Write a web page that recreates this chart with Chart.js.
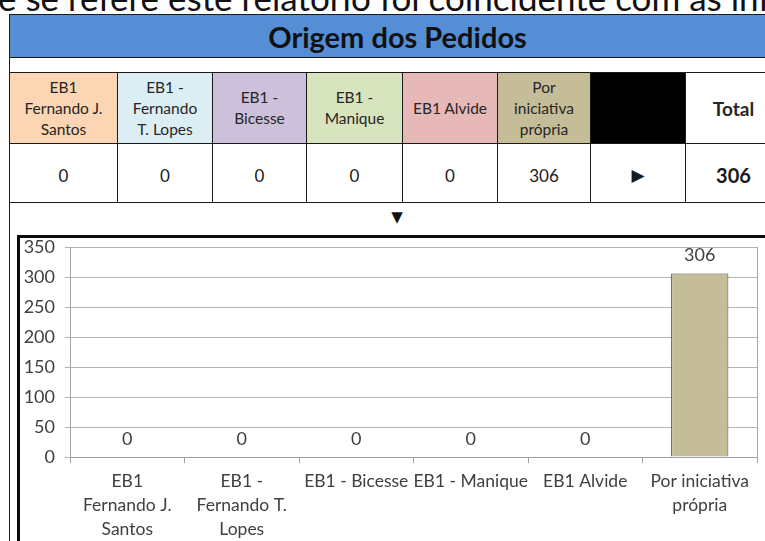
<!DOCTYPE html>
<html>
<head>
<meta charset="utf-8">
<script src="https://cdn.jsdelivr.net/npm/chart.js@4/dist/chart.umd.min.js"></script>
<style>
  html, body { margin:0; padding:0; width:765px; height:541px; overflow:hidden; background:#fff; }
  body { position:relative; font-family: Lato, "Open Sans", sans-serif; color:#1a1a1a; }
  .abs { position:absolute; box-sizing:border-box; }
  .cell { display:flex; align-items:center; justify-content:center; text-align:center; border:1px solid #1a1a1a; }
  .hdr { font-size:15.5px; line-height:21px; color:#262626; }
  .val { font-size:17px; color:#1a1a1a; }
</style>
</head>
<body>
<div class="abs" id="topText" style="left:-2px;top:-20px;font-size:35px;line-height:35px;white-space:nowrap;color:#111;">e se refere este relatório foi coincidente com as informações</div>

<div class="abs" style="left:9px;top:14px;width:1px;height:540px;background:#1a1a1a;"></div>
<div class="abs" id="titleBand" style="left:9px;top:14px;width:776px;height:44px;background:#558ED5;border-top:1px solid #1a1a1a;border-bottom:1px solid #1a1a1a;border-left:1px solid #1a1a1a;display:flex;align-items:center;justify-content:center;font-weight:bold;font-size:29px;color:#111;"></div>

<div id="table"></div>

<div class="abs" id="downArrow" style="left:387px;top:208px;width:20px;text-align:center;font-family:'DejaVu Sans';font-size:15px;line-height:18px;color:#111;">▼</div>

<div class="abs" style="left:17px;top:235px;width:800px;height:400px;border:3px solid #0a0a0a;background:#fff;"></div>

<div class="abs" style="left:0;top:225px;width:765px;height:340px;">
  <canvas id="c" width="765" height="340"></canvas>
</div>

<script>
// ---------- data ----------
const title = "Origem dos Pedidos";
const categories = [
  ["EB1", "Fernando J.", "Santos"],
  ["EB1 -", "Fernando T.", "Lopes"],
  "EB1 - Bicesse",
  "EB1 - Manique",
  "EB1 Alvide",
  ["Por iniciativa", "própria"]
];
const tableHeaders = [
  ["EB1", "Fernando J.", "Santos"],
  ["EB1 -", "Fernando", "T. Lopes"],
  ["EB1 -", "Bicesse"],
  ["EB1 -", "Manique"],
  ["EB1 Alvide"],
  ["Por", "iniciativa", "própria"]
];
const values = [0, 0, 0, 0, 0, 306];
const totalLabel = "Total";
const totalValue = 306;
const yTicks = [0, 50, 100, 150, 200, 250, 300, 350];

// ---------- styles ----------
const headerColors = ["#FCD5B4", "#DBEEF4", "#CCC0DA", "#D7E4BD", "#E6B9B8", "#C4BD97"];
const colEdges = [9, 117, 212, 306, 402, 497, 590, 685, 785];
const hdrTop = 72, hdrBottom = 143, valBottom = 202;

document.getElementById('titleBand').textContent = title;

const table = document.getElementById('table');
function addCell(x0, x1, y0, y1, bg, html, cls, extraStyle) {
  const d = document.createElement('div');
  d.className = 'abs cell ' + (cls || '');
  d.style.left = x0 + 'px';
  d.style.top = y0 + 'px';
  d.style.width = (x1 - x0 + 1) + 'px';
  d.style.height = (y1 - y0 + 1) + 'px';
  d.style.background = bg;
  if (extraStyle) Object.assign(d.style, extraStyle);
  d.innerHTML = html;
  table.appendChild(d);
}
tableHeaders.forEach((lines, i) => {
  addCell(colEdges[i], colEdges[i+1], hdrTop, hdrBottom, headerColors[i], lines.join('<br>'), 'hdr');
  addCell(colEdges[i], colEdges[i+1], hdrBottom, valBottom, '#fff', String(values[i]), 'val', {paddingTop:'4px'});
});
addCell(colEdges[6], colEdges[7], hdrTop, hdrBottom, '#000', '', 'hdr');
addCell(colEdges[6], colEdges[7], hdrBottom, valBottom, '#fff', '▶', 'val', {fontFamily:"'DejaVu Sans'", fontSize:'17px', paddingTop:'3px'});
addCell(colEdges[7], colEdges[8], hdrTop, hdrBottom, '#fff', totalLabel, 'hdr', {fontWeight:'bold', fontSize:'19px', paddingRight:'4px'});
addCell(colEdges[7], colEdges[8], hdrBottom, valBottom, '#fff', String(totalValue), 'val', {fontWeight:'bold', fontSize:'20px', paddingTop:'4px', paddingRight:'4px'});

// ---------- chart ----------
const valueLabels = {
  id: 'valueLabels',
  afterDatasetsDraw(chart) {
    const ctx = chart.ctx;
    const meta = chart.getDatasetMeta(0);
    ctx.save();
    ctx.font = '18px Lato';
    ctx.fillStyle = '#404040';
    ctx.textAlign = 'center';
    ctx.textBaseline = 'middle';
    meta.data.forEach((bar, i) => {
      ctx.fillText(String(chart.data.datasets[0].data[i]), bar.x, bar.y - 18);
    });
    ctx.restore();
  }
};
const plotRight = {
  id: 'plotRight',
  beforeDatasetsDraw(chart) {
    const a = chart.chartArea, ctx = chart.ctx;
    ctx.save();
    ctx.strokeStyle = '#a6a6a6';
    ctx.lineWidth = 1;
    ctx.beginPath();
    ctx.moveTo(Math.round(a.right) + 0.5, a.top);
    ctx.lineTo(Math.round(a.right) + 0.5, a.bottom + 6);
    ctx.stroke();
    ctx.restore();
  }
};

new Chart(document.getElementById('c'), {
  type: 'bar',
  data: {
    labels: categories,
    datasets: [{
      data: values,
      backgroundColor: '#C4BD97',
      borderColor: '#4d4a35',
      borderWidth: 1,
      barPercentage: 0.5,
      categoryPercentage: 1.0
    }]
  },
  options: {
    responsive: false,
    animation: false,
    events: [],
    layout: { padding: { left: 0, right: 8, top: 22, bottom: 24 } },
    plugins: { legend: { display: false }, tooltip: { enabled: false } },
    scales: {
      y: {
        min: yTicks[0],
        max: yTicks[yTicks.length - 1],
        afterFit(s) { s.width = 70; },
        afterBuildTicks(s) { s.ticks = yTicks.map(v => ({ value: v })); },
        ticks: { font: { family: 'Lato', size: 18 }, color: '#404040', padding: 10 },
        grid: { color: '#b4b4b4', tickLength: 5 },
        border: { color: '#a0a0a0' }
      },
      x: {
        afterFit(s) { s.height = 84; },
        ticks: { font: { family: 'Lato', size: 17.5, lineHeight: 1.38 }, color: '#404040', padding: 6, maxRotation: 0, autoSkip: false },
        grid: { drawOnChartArea: false, tickLength: 6, color: '#a0a0a0', offset: true },
        border: { color: '#a0a0a0' }
      }
    }
  },
  plugins: [valueLabels, plotRight]
});
</script>
</body>
</html>
